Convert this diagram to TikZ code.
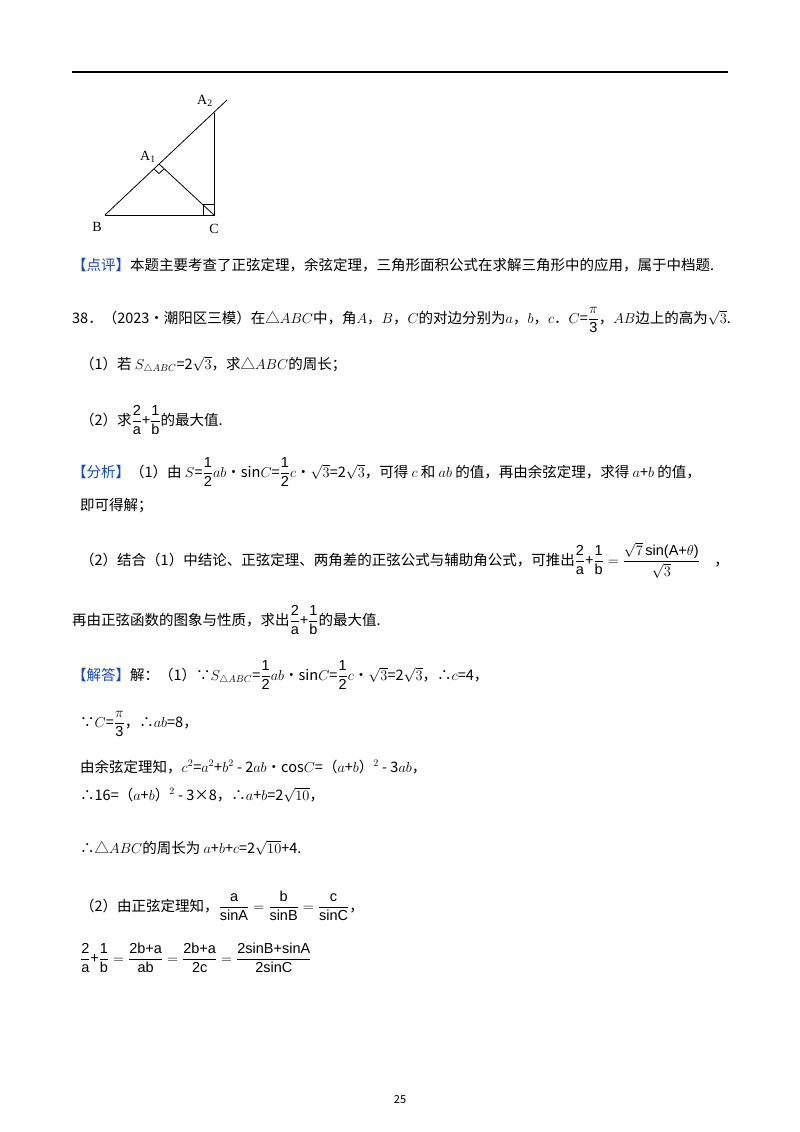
\documentclass[tikz,border=0pt]{standalone}
\usepackage{amsmath}
\usepackage{fontspec}
\usetikzlibrary{calc}
\setmainfont{Noto Sans CJK SC}
\newfontfamily\lat{Liberation Serif}
\newfontfamily\sans{Liberation Sans}
\definecolor{kb}{RGB}{20,70,200}
\newcommand{\tg}[1]{\textcolor{kb}{#1}}
\newcommand{\bu}{\textbullet{}}
\newcommand{\fr}[2]{\ensuremath{\dfrac{\text{\sans #1}}{\text{\sans #2}}}}
\begin{document}
\begin{tikzpicture}[x=1pt,y=-1pt,
  txt/.style={anchor=base west,inner sep=0pt,font=\fontsize{14.5}{17}\selectfont},
  geo/.style={line width=0.8pt},
  lab/.style={font=\lat\fontsize{14}{16}\selectfont,inner sep=1pt}]
\useasboundingbox (0,0) rectangle (800,1132);
\fill[white] (0,0) rectangle (800,1132);
\draw[line width=1.5pt] (72,72) coordinate(r1) -- (728,72) coordinate(r2);
% figure
\coordinate (B) at (105,215); \coordinate (C) at (214,215);
\coordinate (A2) at (214,113); \coordinate (A1) at (159,164);
\coordinate (E) at (227,100);
\draw[geo] (B) -- (C) -- (A2); \draw[geo] (B) -- (E); \draw[geo] (C) -- (A1);
\draw[geo] (203,215) -- (203,204) -- (214,204);
\draw[geo] (153.9,168.8) -- (159,173.6) -- (164.1,168.8);
\node[lab] (lB) at (97,227) {B};
\node[lab] (lC) at (214,229) {C};
\node[lab] (lA1) at (148,157) {A$_{\text{1}}$};
\node[lab] (lA2) at (205,101) {A$_{\text{2}}$};
\node[txt] (t1) at (72,270) {\tg{【点评】}本题主要考查了正弦定理，余弦定理，三角形面积公式在求解三角形中的应用，属于中档题.};
\node[txt] (t2) at (72,323) {38．（2023\bu 潮阳区三模）在△$ABC$中，角$A$，$B$，$C$的对边分别为$a$，$b$，$c$．$C$=\fr{$\pi$}{3}，$AB$边上的高为$\sqrt{3}$.};
\node[txt] (t3) at (80,369) {（1）若 $S_{\triangle ABC}$=2$\sqrt{3}$，求△$ABC$的周长；};
\node[txt] (t4) at (80,425) {（2）求\fr{2}{a}+\fr{1}{b}的最大值.};
\node[txt] (t5) at (72,477) {\tg{【分析】}（1）由 $S$=\fr{1}{2}$ab$\bu sin$C$=\fr{1}{2}$c$\bu$\sqrt{3}$=2$\sqrt{3}$，可得 $c$ 和 $ab$ 的值，再由余弦定理，求得 $a$+$b$ 的值，};
\node[txt] (t6) at (80,510) {即可得解；};
\node[txt] (t7) at (80,565) {（2）结合（1）中结论、正弦定理、两角差的正弦公式与辅助角公式，可推出\fr{2}{a}+\fr{1}{b}$\;=\;$\fr{$\sqrt{7}$\,sin(A+$\theta$)}{$\sqrt{3}$}\quad ，};
\node[txt] (t8) at (72,625) {再由正弦函数的图象与性质，求出\fr{2}{a}+\fr{1}{b}的最大值.};
\node[txt] (t9) at (72,680) {\tg{【解答】}解：（1）∵$S_{\triangle ABC}$=\fr{1}{2}$ab$\bu sin$C$=\fr{1}{2}$c$\bu$\sqrt{3}$=2$\sqrt{3}$，∴$c$=4，};
\node[txt] (t10) at (80,727) {∵$C$=\fr{$\pi$}{3}，∴$ab$=8，};
\node[txt] (t11) at (80,772) {由余弦定理知，$c^2$=$a^2$+$b^2$ - 2$ab$\bu cos$C$=（$a$+$b$）$^2$ - 3$ab$，};
\node[txt] (t12) at (80,800) {∴16=（$a$+$b$）$^2$ - 3×8，∴$a$+$b$=2$\sqrt{10}$，};
\node[txt] (t13) at (80,853) {∴△$ABC$的周长为 $a$+$b$+$c$=2$\sqrt{10}$+4.};
\node[txt] (t14) at (80,911) {（2）由正弦定理知，\fr{a}{sinA}$\;=\;$\fr{b}{sinB}$\;=\;$\fr{c}{sinC}，};
\node[txt] (t15) at (80,963) {\fr{2}{a}+\fr{1}{b}$\;=\;$\fr{2b+a}{ab}$\;=\;$\fr{2b+a}{2c}$\;=\;$\fr{2sinB+sinA}{2sinC}};
\node[font=\fontsize{11}{13}\selectfont] (pg) at (400,1100) {25};
\end{tikzpicture}
\end{document}
